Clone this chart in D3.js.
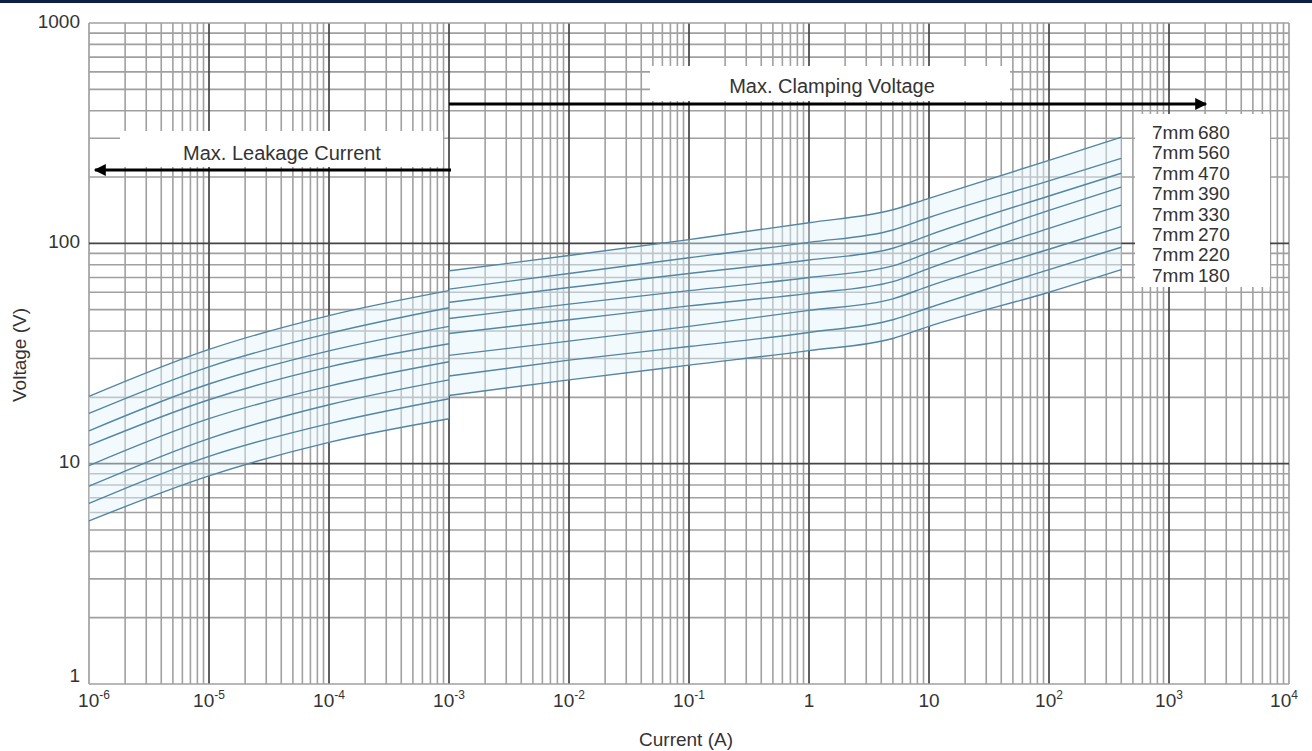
<!DOCTYPE html>
<html>
<head>
<meta charset="utf-8">
<script src="https://cdn.jsdelivr.net/npm/d3@7"></script>
<style>
  body { margin: 0; background: #fff; }
  svg { display: block; font-family: "Liberation Sans", Arial, sans-serif; }
</style>
</head>
<body>
<svg id="chart" width="1312" height="751"></svg>
<script>
// series names, top to bottom
const seriesNames = ["7mm680", "7mm560", "7mm470", "7mm390", "7mm330", "7mm270", "7mm220", "7mm180"];

// leakage part (A)
const leftCurrent = [1e-6, 1e-5, 1e-4, 1e-3];
const leftVoltage = [
  [20.2, 33, 47, 61],
  [16.9, 27.5, 39, 51],
  [14.1, 23, 32.5, 42],
  [12.1, 19.5, 27.5, 35],
  [9.8, 16, 22.5, 29],
  [7.9, 13, 18.5, 24],
  [6.6, 10.8, 15.2, 19.7],
  [5.5, 8.8, 12.5, 16]
];

// clamping part (A)
const rightCurrent = [1e-3, 1e-2, 1e-1, 1, 5, 10, 100, 400];
const rightVoltage = [
  [75, 88, 104, 124, 142, 160, 238, 303],
  [62, 73, 86, 101, 115, 131, 192, 243],
  [54, 63, 73, 84, 95, 109, 164, 208],
  [45.6, 53, 61, 70, 79, 91, 141, 180],
  [39, 45, 52, 59.3, 67, 77, 117, 149],
  [31, 36, 42, 49.6, 56, 64, 94, 119],
  [25, 29.5, 34, 39.4, 45, 51, 76, 96],
  [20.4, 24, 28, 32.6, 37, 42, 60, 76]
];

const xDecades = [-6, -5, -4, -3, -2, -1, 0, 1, 2, 3, 4];
const yTicks = [1, 10, 100, 1000];

const svg = d3.select("#chart");

const x = d3.scaleLog().domain([1e-6, 1e4]).range([89, 1289]);
const y = d3.scaleLog().domain([1, 1000]).range([684, 23]);

// navy strip on top
svg.append("rect")
  .attr("x", 0).attr("y", 0)
  .attr("width", 1312).attr("height", 3)
  .attr("fill", "#0d1f45");

// grid
let xMinor = [], xMajor = [];
for (let d = -6; d < 4; d++) {
  for (let k = 1; k < 10; k++) {
    let v = k * Math.pow(10, d);
    if (k == 1) xMajor.push(v); else xMinor.push(v);
  }
}
xMajor.push(1e4);
let yMinor = [], yMajor = [];
for (let d = 0; d < 3; d++) {
  for (let k = 1; k < 10; k++) {
    let v = k * Math.pow(10, d);
    if (k == 1) yMajor.push(v); else yMinor.push(v);
  }
}
yMajor.push(1000);

const grid = svg.append("g").attr("class", "grid");

grid.selectAll("line.xminor")
  .data(xMinor).join("line")
    .attr("class", "xminor")
    .attr("x1", d => x(d)).attr("x2", d => x(d))
    .attr("y1", y(1000)).attr("y2", y(1))
    .attr("stroke", "#a0a0a0")
    .attr("stroke-width", 1.6);

grid.selectAll("line.yminor")
  .data(yMinor).join("line")
    .attr("class", "yminor")
    .attr("x1", x(1e-6)).attr("x2", x(1e4))
    .attr("y1", d => y(d)).attr("y2", d => y(d))
    .attr("stroke", "#a0a0a0")
    .attr("stroke-width", 1.6);

grid.selectAll("line.xmajor")
  .data(xMajor).join("line")
    .attr("class", "xmajor")
    .attr("x1", d => x(d)).attr("x2", d => x(d))
    .attr("y1", y(1000)).attr("y2", y(1))
    .attr("stroke", (d, i) => (i == 0 || i == 10) ? "#a0a0a0" : "#444")
    .attr("stroke-width", 1.7);

grid.selectAll("line.ymajor")
  .data(yMajor).join("line")
    .attr("class", "ymajor")
    .attr("x1", x(1e-6)).attr("x2", x(1e4))
    .attr("y1", d => y(d)).attr("y2", d => y(d))
    .attr("stroke", (d, i) => (i == 0 || i == 3) ? "#a0a0a0" : "#444")
    .attr("stroke-width", 1.7);

// pale band between top and bottom curves
const band = d3.area()
  .curve(d3.curveMonotoneX)
  .x(d => x(d.i))
  .y0(d => y(d.lo))
  .y1(d => y(d.hi));

function bandData(cur, volts) {
  return cur.map((c, k) => ({i: c, hi: volts[0][k], lo: volts[volts.length - 1][k]}));
}

svg.append("path")
  .attr("d", band(bandData(leftCurrent, leftVoltage)))
  .attr("fill", "#e3f4fb")
  .attr("fill-opacity", 0.45);
svg.append("path")
  .attr("d", band(bandData(rightCurrent, rightVoltage)))
  .attr("fill", "#e3f4fb")
  .attr("fill-opacity", 0.45);

// curves
const line = d3.line()
  .curve(d3.curveMonotoneX)
  .x(d => x(d[0]))
  .y(d => y(d[1]));

const curves = svg.append("g")
  .attr("fill", "none")
  .attr("stroke", "#5286a4")
  .attr("stroke-width", 1.4);

leftVoltage.forEach(vs => {
  curves.append("path").attr("d", line(leftCurrent.map((c, k) => [c, vs[k]])));
});
rightVoltage.forEach(vs => {
  curves.append("path").attr("d", line(rightCurrent.map((c, k) => [c, vs[k]])));
});

// white label boxes
svg.append("rect")
  .attr("x", 120).attr("y", 131).attr("width", 323).attr("height", 36)
  .attr("fill", "#fff");
svg.append("text")
  .attr("x", 282).attr("y", 160)
  .attr("text-anchor", "middle")
  .attr("font-size", 20)
  .attr("fill", "#333")
  .text("Max. Leakage Current");

svg.append("rect")
  .attr("x", 650).attr("y", 66).attr("width", 360).attr("height", 35)
  .attr("fill", "#fff");
svg.append("text")
  .attr("x", 832).attr("y", 93)
  .attr("text-anchor", "middle")
  .attr("font-size", 20)
  .attr("fill", "#333")
  .text("Max. Clamping Voltage");

// arrows
svg.append("defs").append("marker")
  .attr("id", "arrow")
  .attr("viewBox", "0 0 10 10")
  .attr("refX", 9).attr("refY", 5)
  .attr("markerWidth", 4.5).attr("markerHeight", 4)
  .attr("orient", "auto")
  .append("path")
    .attr("d", "M0,0L10,5L0,10Z")
    .attr("fill", "#000");

svg.append("line")
  .attr("x1", x(1e-3) + 2).attr("x2", 95)
  .attr("y1", 170).attr("y2", 170)
  .attr("stroke", "#000").attr("stroke-width", 3)
  .attr("marker-end", "url(#arrow)");

svg.append("line")
  .attr("x1", x(1e-3)).attr("x2", 1206)
  .attr("y1", 104).attr("y2", 104)
  .attr("stroke", "#000").attr("stroke-width", 3)
  .attr("marker-end", "url(#arrow)");

// legend
svg.append("rect")
  .attr("x", 1135).attr("y", 114).attr("width", 135).attr("height", 173)
  .attr("fill", "#fff");
svg.append("g")
  .selectAll("text")
  .data(seriesNames).join("text")
    .attr("x", 1152)
    .attr("y", (d, i) => 139 + i * 20.4)
    .attr("font-size", 19)
    .attr("fill", "#333")
    .text(d => d.replace("mm", "mm\u2009"));

// y tick labels
svg.append("g")
  .selectAll("text")
  .data(yTicks).join("text")
    .attr("x", 80)
    .attr("y", d => d == 1 ? 682 : y(d) - 2)
    .attr("text-anchor", "end")
    .attr("font-size", 19)
    .attr("fill", "#333")
    .attr("dy", d => d == 1 ? "0" : "0.35em")
    .text(d => d);

// x tick labels
const xl = svg.append("g")
  .selectAll("text")
  .data(xDecades).join("text")
    .attr("x", d => x(Math.pow(10, d)) + (d == -6 ? 5 : 0) + (d == 4 ? -5 : 0))
    .attr("y", 707)
    .attr("text-anchor", "middle")
    .attr("font-size", 19)
    .attr("fill", "#333");

xl.each(function(d) {
  let t = d3.select(this);
  if (d == 0) { t.text("1"); return; }
  if (d == 1) { t.text("10"); return; }
  t.append("tspan").text("10");
  t.append("tspan")
    .attr("font-size", 12)
    .attr("dy", -8)
    .text(d < 0 ? "-" + (-d) : d);
});

// axis titles
svg.append("text")
  .attr("x", 686).attr("y", 746)
  .attr("text-anchor", "middle")
  .attr("font-size", 19)
  .attr("fill", "#333")
  .text("Current (A)");

svg.append("text")
  .attr("transform", "translate(26,355) rotate(-90)")
  .attr("text-anchor", "middle")
  .attr("font-size", 19)
  .attr("fill", "#333")
  .text("Voltage (V)");
</script>
</body>
</html>
